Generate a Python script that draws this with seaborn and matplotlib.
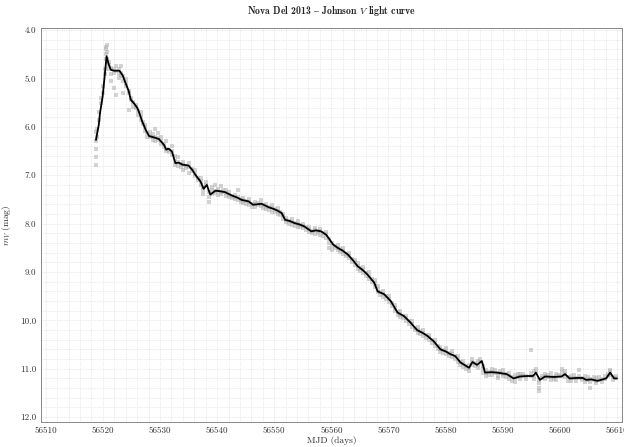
import matplotlib
matplotlib.use("Agg")
import matplotlib.pyplot as plt
from matplotlib.ticker import MultipleLocator, FormatStrFormatter
import seaborn as sns
import pandas as pd

# ---- smoothed light curve (black line) ----
line_mjd = [56518.8, 56519.3, 56519.5, 56519.97, 56520.66, 56521.0, 56521.4, 56522.0, 56522.9,
            56523.45, 56524.0, 56524.5, 56524.9, 56525.5, 56526.05, 56526.5, 56526.9, 56527.5,
            56528.1, 56529.0, 56529.8, 56530.7, 56531.1, 56531.5, 56532.1, 56532.7, 56533.3,
            56533.9, 56535.0, 56535.6, 56536.2, 56537.1, 56537.65, 56538.2, 56538.8, 56539.7,
            56540.5, 56541.4, 56542.6, 56543.5, 56544.3, 56545.5, 56546.3, 56547.8, 56549.0,
            56550.0, 56550.7, 56551.3, 56551.9, 56552.8, 56553.6, 56554.5, 56555.3, 56556.5,
            56557.3, 56558.2, 56559.1, 56560.3, 56561.1, 56562.0, 56562.9, 56563.8, 56564.6,
            56565.5, 56566.3, 56567.5, 56568.1, 56569.25, 56570.4, 56571.6, 56572.7, 56573.9,
            56575.0, 56576.0, 56576.8, 56577.9, 56579.1, 56580.0, 56580.7, 56581.7, 56582.6,
            56583.3, 56584.1, 56584.7, 56585.5, 56586.35, 56586.9, 56588.0, 56589.0, 56590.7,
            56591.9, 56593.0, 56594.2, 56595.3, 56595.8, 56596.5, 56597.4, 56599.0, 56600.3,
            56600.9, 56601.7, 56603.0, 56604.0, 56604.6, 56605.5, 56606.6, 56607.5, 56608.1,
            56608.8, 56609.5, 56610.0]
line_mag = [6.27, 5.95, 5.72, 5.37, 4.54, 4.70, 4.82, 4.84, 4.84,
            4.93, 5.10, 5.25, 5.44, 5.52, 5.61, 5.75, 5.89, 6.06,
            6.19, 6.22, 6.25, 6.37, 6.47, 6.45, 6.51, 6.75, 6.74,
            6.78, 6.80, 6.88, 6.99, 7.13, 7.28, 7.20, 7.40, 7.32,
            7.33, 7.35, 7.42, 7.46, 7.51, 7.54, 7.61, 7.59, 7.66,
            7.70, 7.74, 7.78, 7.92, 7.95, 7.99, 8.02, 8.06, 8.16,
            8.14, 8.16, 8.23, 8.43, 8.50, 8.56, 8.64, 8.76, 8.88,
            8.96, 9.05, 9.22, 9.40, 9.46, 9.60, 9.84, 9.91, 10.05,
            10.20, 10.26, 10.32, 10.43, 10.60, 10.64, 10.69, 10.74, 10.87,
            10.92, 10.98, 10.86, 10.92, 10.84, 11.08, 11.07, 11.08, 11.11,
            11.20, 11.16, 11.15, 11.15, 11.08, 11.23, 11.16, 11.17, 11.16,
            11.11, 11.20, 11.19, 11.19, 11.23, 11.22, 11.25, 11.22, 11.20,
            11.08, 11.20, 11.20]

# ---- individual observations (grey points), grouped by epoch ----
obs_mjd = [56518.8, 56519.0, 56519.4, 56519.7, 56520.0, 56520.3, 56520.6, 56520.8, 56521.1,
           56521.5, 56521.9, 56522.3, 56522.8, 56523.2, 56523.6, 56524.1, 56524.5, 56524.9,
           56525.3, 56525.8, 56526.2, 56526.6, 56527.0, 56527.4, 56527.8, 56528.2, 56528.7,
           56529.2, 56529.7, 56530.2, 56530.7, 56531.1, 56531.6, 56532.1, 56532.6, 56533.1,
           56533.6, 56534.1, 56534.6, 56535.1, 56535.6, 56536.1, 56536.6, 56537.1, 56537.6,
           56538.1, 56538.6, 56539.1, 56539.6, 56540.1, 56540.6, 56541.1, 56541.6, 56542.1,
           56542.6, 56543.1, 56543.6, 56544.1, 56544.6, 56545.1, 56545.6, 56546.1, 56546.6,
           56547.1, 56547.6, 56548.1, 56548.6, 56549.1, 56549.6, 56550.1, 56550.6, 56551.1,
           56551.6, 56552.1, 56552.6, 56553.1, 56553.6, 56554.1, 56554.6, 56555.1, 56555.6,
           56556.1, 56556.6, 56557.1, 56557.6, 56558.1, 56558.6, 56559.1, 56559.6, 56560.1,
           56560.6, 56561.1, 56561.6, 56562.1, 56562.6, 56563.1, 56563.6, 56564.1, 56564.6,
           56565.1, 56565.6, 56566.1, 56566.6, 56567.1, 56567.6, 56568.1, 56568.6, 56569.1,
           56569.6, 56570.1, 56570.6, 56571.1, 56571.6, 56572.1, 56572.6, 56573.1, 56573.6,
           56574.1, 56574.6, 56575.1, 56575.6, 56576.1, 56576.6, 56577.1, 56577.6, 56578.1,
           56578.6, 56579.1, 56579.6, 56580.1, 56580.6, 56581.1, 56581.6, 56582.1, 56582.6,
           56583.1, 56583.6, 56584.1, 56584.6, 56585.1, 56585.6, 56586.1, 56586.6, 56587.1,
           56587.6, 56588.1, 56588.6, 56589.1, 56589.6, 56590.1, 56590.6, 56591.1, 56591.6,
           56592.1, 56592.6, 56593.1, 56593.6, 56594.1, 56594.9, 56595.4, 56595.9, 56596.4,
           56596.9, 56597.4, 56597.9, 56598.4, 56598.9, 56599.4, 56599.9, 56600.4, 56600.9,
           56601.4, 56601.9, 56602.4, 56602.9, 56603.4, 56603.9, 56604.4, 56604.9, 56605.3,
           56605.9, 56606.4, 56606.9, 56607.4, 56607.9, 56608.4, 56608.8, 56609.3, 56609.8]
obs_mag = [[6.30, 6.45, 6.62, 6.78, 6.10], [6.05, 6.20], [5.85, 5.70], [5.50, 5.40], [5.30, 5.15],
           [4.90, 4.80], [4.50, 4.40, 4.35, 4.60], [4.45, 4.60, 4.30], [4.72, 4.65, 4.80],
           [4.78, 4.90, 5.05], [4.80, 4.88, 5.20], [4.85, 4.75, 5.35], [4.80, 4.90, 5.00],
           [4.88, 4.95, 4.75], [4.95, 5.05, 5.30], [5.10, 5.15, 5.02], [5.25, 5.30, 5.65],
           [5.40, 5.45], [5.50, 5.48, 5.58], [5.58, 5.62, 5.55], [5.68, 5.75], [5.78, 5.85, 5.70],
           [5.90, 5.95], [6.00, 6.08, 5.96], [6.12, 6.20], [6.18, 6.22, 6.10], [6.20, 6.15, 6.28],
           [6.22, 6.30, 6.05], [6.24, 6.28, 6.12], [6.30, 6.35, 6.20], [6.36, 6.42],
           [6.45, 6.50, 6.30], [6.47, 6.52], [6.50, 6.58, 6.40], [6.70, 6.78, 6.60],
           [6.72, 6.80, 6.62], [6.76, 6.82], [6.78, 6.72, 6.90], [6.80, 6.85], [6.82, 6.75, 6.95],
           [6.88, 6.92], [6.98, 7.02, 6.90], [7.05, 7.10], [7.12, 7.20, 7.05], [7.25, 7.30, 7.38],
           [7.20, 7.15], [7.35, 7.45, 7.55], [7.38, 7.30, 7.25], [7.32, 7.36, 7.20],
           [7.33, 7.28, 7.40], [7.34, 7.38, 7.22], [7.35, 7.30], [7.36, 7.42, 7.30],
           [7.40, 7.45, 7.35], [7.42, 7.48], [7.44, 7.40, 7.50], [7.46, 7.52, 7.30], [7.50, 7.55],
           [7.52, 7.48, 7.58], [7.53, 7.60], [7.55, 7.50, 7.62], [7.60, 7.65], [7.60, 7.66, 7.55],
           [7.58, 7.62], [7.59, 7.64, 7.52], [7.62, 7.68], [7.65, 7.70, 7.60], [7.66, 7.72],
           [7.68, 7.62, 7.75], [7.70, 7.76], [7.74, 7.80, 7.68], [7.77, 7.83], [7.85, 7.90, 7.80],
           [7.92, 7.96, 7.88], [7.94, 8.00], [7.96, 8.02, 7.90], [7.99, 8.04], [8.00, 8.06, 7.95],
           [8.02, 8.08], [8.05, 8.10, 8.00], [8.08, 8.14], [8.12, 8.18, 8.06], [8.16, 8.20],
           [8.14, 8.10, 8.22], [8.15, 8.20], [8.16, 8.12, 8.24], [8.20, 8.26], [8.22, 8.30, 8.18],
           [8.32, 8.40, 8.50], [8.40, 8.46, 8.55], [8.46, 8.50], [8.50, 8.55, 8.44], [8.53, 8.58],
           [8.56, 8.62, 8.50], [8.62, 8.66], [8.66, 8.72, 8.60], [8.74, 8.80], [8.80, 8.86, 8.75],
           [8.88, 8.93, 8.82], [8.92, 8.98], [8.96, 9.02, 8.90], [9.02, 9.08], [9.08, 9.14, 9.00],
           [9.15, 9.20], [9.22, 9.30, 9.16], [9.35, 9.42, 9.28], [9.42, 9.48], [9.45, 9.52, 9.40],
           [9.50, 9.56], [9.56, 9.62, 9.50], [9.64, 9.70], [9.74, 9.80, 9.68], [9.82, 9.88],
           [9.86, 9.92, 9.80], [9.90, 9.96], [9.95, 10.02, 9.90], [10.02, 10.08],
           [10.08, 10.14, 10.02], [10.15, 10.20], [10.20, 10.26, 10.14], [10.23, 10.28],
           [10.26, 10.32, 10.20], [10.30, 10.36], [10.35, 10.40, 10.30], [10.40, 10.46],
           [10.46, 10.52, 10.40], [10.54, 10.60], [10.60, 10.66, 10.55], [10.62, 10.68],
           [10.64, 10.70, 10.58], [10.68, 10.74], [10.70, 10.76, 10.64], [10.74, 10.80],
           [10.80, 10.86, 10.74], [10.87, 10.92], [10.90, 10.96, 10.84], [10.94, 11.00],
           [10.98, 11.04, 10.92], [10.86, 10.80, 10.92], [10.88, 10.95], [10.92, 10.98, 10.85],
           [10.86, 10.80], [11.00, 11.08, 10.94], [11.08, 11.14, 11.02], [11.06, 11.12],
           [11.07, 11.13, 11.00], [11.08, 11.02], [11.08, 11.14, 11.20], [11.09, 11.04],
           [11.10, 11.16, 11.02], [11.11, 11.18], [11.15, 11.22, 11.08], [11.18, 11.25],
           [11.20, 11.28, 11.12], [11.17, 11.10], [11.16, 11.22, 11.10], [11.16, 11.10],
           [11.15, 11.22], [10.61, 11.14, 11.08], [11.15, 11.05, 11.22], [11.08, 11.00],
           [11.23, 11.30, 11.40, 11.45], [11.20, 11.14], [11.16, 11.10, 11.22], [11.17, 11.12],
           [11.17, 11.24, 11.08], [11.17, 11.22], [11.16, 11.10, 11.24], [11.16, 11.12],
           [11.15, 11.06, 11.00], [11.11, 11.05, 11.18], [11.18, 11.25], [11.20, 11.14, 11.26],
           [11.19, 11.12], [11.19, 11.25], [11.19, 11.14, 11.02], [11.19, 11.24],
           [11.22, 11.28, 11.16], [11.23, 11.18], [11.40, 11.22, 11.28], [11.23, 11.17],
           [11.25, 11.30, 11.20], [11.24, 11.18], [11.22, 11.28], [11.21, 11.15], [11.15, 11.10],
           [11.05, 11.02, 11.12], [11.18, 11.24], [11.20, 11.16]]

title_text = "Nova Del 2013 $\u2013$ Johnson $V$ light curve"
x_label = "MJD (days)"
y_label = "$m_V\\ \\mathrm{(mag)}$"

rows = [(t, m) for t, ms in zip(obs_mjd, obs_mag) for m in ms]
obs = pd.DataFrame(rows, columns=["mjd", "mag"])
smooth = pd.DataFrame({"mjd": line_mjd, "mag": line_mag})

sns.set_theme(style="white")
plt.rcParams["font.family"] = ["cmr10", "DejaVu Serif"]
plt.rcParams["mathtext.fontset"] = "cm"
plt.rcParams["axes.formatter.use_mathtext"] = True

fig = plt.figure(figsize=(6.24, 4.47), dpi=100)
ax = fig.add_axes([0.065, 0.056, 0.932, 0.881])

sns.scatterplot(data=obs, x="mjd", y="mag", ax=ax, color="#b0b0b0", s=5,
                alpha=0.55, linewidth=0, marker="s")
sns.lineplot(data=smooth, x="mjd", y="mag", ax=ax, color="black", lw=1.3,
             estimator=None, sort=True)

ax.set_xlim(56509.1, 56610.9)
ax.set_ylim(12.1, 3.96)
ax.xaxis.set_major_locator(MultipleLocator(10))
ax.xaxis.set_minor_locator(MultipleLocator(2))
ax.yaxis.set_major_locator(MultipleLocator(1.0))
ax.yaxis.set_minor_locator(MultipleLocator(0.2))
ax.yaxis.set_major_formatter(FormatStrFormatter("%.1f"))
ax.xaxis.set_major_formatter(FormatStrFormatter("%d"))

ax.grid(True, which="both", color="#d8d8d8", linestyle=(0, (1, 1.5)), linewidth=0.5)
ax.tick_params(which="both", direction="in", color="#777777", labelcolor="#333333",
               labelsize=6.5, width=0.6)
ax.tick_params(which="major", length=3)
ax.tick_params(which="minor", length=1.5)
ax.tick_params(axis="x", pad=3)
ax.tick_params(axis="y", pad=3)
for sp in ax.spines.values():
    sp.set_color("#888888")
    sp.set_linewidth(0.7)

ax.set_title(title_text, fontsize=7, color="#222222", pad=10, family="cmb10")
ax.set_xlabel(x_label, fontsize=6.8, color="#333333", labelpad=1)
ax.set_ylabel(y_label, fontsize=6.8, color="#333333", labelpad=5)

fig.savefig("out.png", dpi=100)
